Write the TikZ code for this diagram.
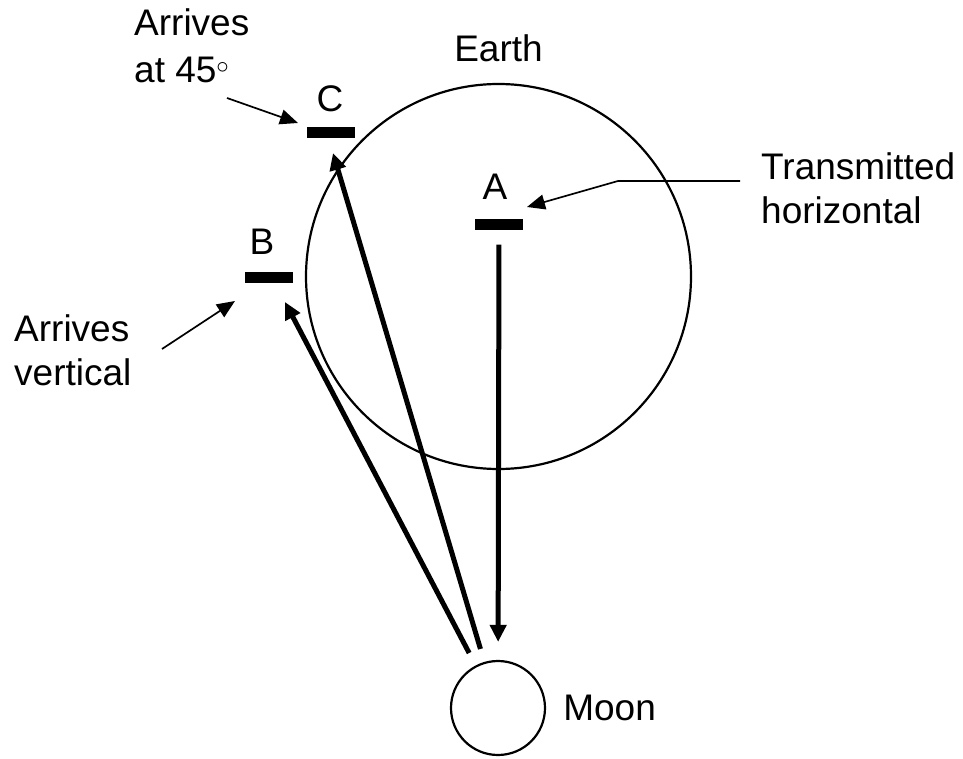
\documentclass[tikz,border=0pt]{standalone}
\usepackage{fontspec}
\setmainfont{Liberation Sans}
\usepackage{tikz}
\usetikzlibrary{arrows.meta, positioning}

\newcommand{\degmark}{\raisebox{9.5pt}{\fontsize{42}{42}\selectfont$\circ$}}

\begin{document}
\begin{tikzpicture}[x=1pt, y=-1pt, >=Stealth,
    font=\fontsize{37}{44}\selectfont,
    body/.style={circle, draw, line width=2.2pt, inner sep=0},
    plate/.style={fill=black, minimum width=48pt, minimum height=11pt, inner sep=0},
    lbl/.style={inner sep=0},
    note/.style={inner sep=0, align=left},
    ray/.style={line width=5pt, -{Triangle[length=17pt, width=16pt]}},
    pointer/.style={line width=1.7pt, -{Triangle[length=18pt, width=15pt]}}]
  \useasboundingbox (0,0) rectangle (963,759);
  %% bodies
  \node[body, minimum size=385pt] (earth) at (498.5,276.5) {};
  \node[body, minimum size=94pt] (moon) at (498,708) {};
  \node[lbl, above=21pt of earth] {Earth};
  \node[lbl, right=17pt of moon] {Moon};
  %% antennas
  \node[plate] (pA) at (499,225) {};
  \node[plate] (pB) at (269,277) {};
  \node[plate] (pC) at (331,133) {};
  \node[lbl, above=20pt of pA, xshift=-4pt] {A};
  \node[lbl, above=17pt of pB, xshift=-7pt] {B};
  \node[lbl, above=15pt of pC, xshift=-1pt] {C};
  %% beams via the moon
  \coordinate (hitB) at (285,302);
  \coordinate (hitC) at (333,153);
  \draw[ray, shorten <=14pt, shorten >=18pt] (pA) -- (moon);
  \draw[ray, shorten <=14pt] (moon) -- (hitB);
  \draw[ray, shorten <=13.5pt] (moon) -- (hitC);
  %% notes
  \node[note, anchor=north west] (txt) at (761,152) {Transmitted\\horizontal};
  \node[note, anchor=north west] (vert) at (14,314) {Arrives\\vertical};
  \node[note, anchor=north west, font=\fontsize{37}{47.5}\selectfont]
    (diag) at (134,8) {Arrives\\at 45\degmark};
  \coordinate (txtEnd) at (740,181);
  \coordinate (txtBend) at (618,181);
  \coordinate (tipA) at (527,207);
  \coordinate (vertEnd) at (162,349);
  \coordinate (tipB) at (235,301);
  \coordinate (diagEnd) at (227,98);
  \coordinate (tipC) at (298,123);
  \draw[pointer] (txtEnd) -- (txtBend) -- (tipA);
  \draw[pointer] (vertEnd) -- (tipB);
  \draw[pointer] (diagEnd) -- (tipC);
\end{tikzpicture}
\end{document}
